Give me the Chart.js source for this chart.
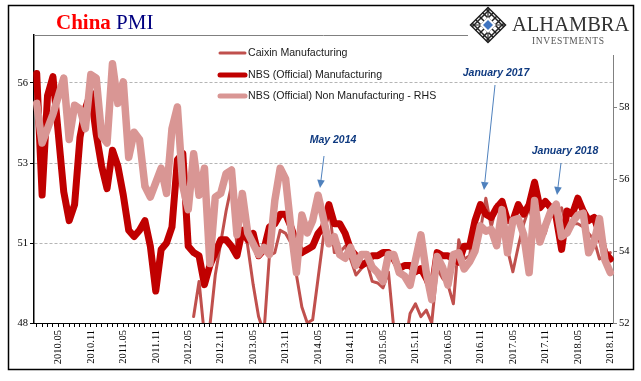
<!DOCTYPE html>
<html>
<head>
<meta charset="utf-8">
<title>China PMI</title>
<script src="https://cdn.jsdelivr.net/npm/chart.js@4"></script>
<style>
  html, body { margin: 0; padding: 0; background: #fff; }
  canvas { display: block; }
</style>
</head>
<body>
<canvas id="pmiChart" width="641" height="381"></canvas>
<script>
// Monthly categories, 2010.01 to 2018.11
const months = [
    '2010.01','2010.02','2010.03','2010.04','2010.05','2010.06','2010.07','2010.08','2010.09','2010.10','2010.11','2010.12',
    '2011.01','2011.02','2011.03','2011.04','2011.05','2011.06','2011.07','2011.08','2011.09','2011.10','2011.11','2011.12',
    '2012.01','2012.02','2012.03','2012.04','2012.05','2012.06','2012.07','2012.08','2012.09','2012.10','2012.11','2012.12',
    '2013.01','2013.02','2013.03','2013.04','2013.05','2013.06','2013.07','2013.08','2013.09','2013.10','2013.11','2013.12',
    '2014.01','2014.02','2014.03','2014.04','2014.05','2014.06','2014.07','2014.08','2014.09','2014.10','2014.11','2014.12',
    '2015.01','2015.02','2015.03','2015.04','2015.05','2015.06','2015.07','2015.08','2015.09','2015.10','2015.11','2015.12',
    '2016.01','2016.02','2016.03','2016.04','2016.05','2016.06','2016.07','2016.08','2016.09','2016.10','2016.11','2016.12',
    '2017.01','2017.02','2017.03','2017.04','2017.05','2017.06','2017.07','2017.08','2017.09','2017.10','2017.11','2017.12',
    '2018.01','2018.02','2018.03','2018.04','2018.05','2018.06','2018.07','2018.08','2018.09','2018.10','2018.11'
];

const caixin = [
    null,null,null,null,null,null,null,null,null,null,null,null,
    null,null,null,null,null,null,null,null,null,null,null,null,
    null,null,null,null,null,48.2,49.3,47.6,47.9,49.5,50.5,51.5,
    52.3,50.4,51.6,50.4,49.2,48.2,47.7,50.1,50.2,50.9,50.8,50.5,
    49.5,48.5,48.0,48.1,49.4,50.7,51.7,50.2,50.2,50.4,50.0,49.5,
    49.7,49.9,49.3,49.25,49.1,49.6,47.8,47.3,47.2,48.3,48.6,48.2,
    48.4,48.0,49.7,49.4,49.2,48.6,50.6,50.0,50.1,51.2,50.9,51.9,
    51.0,51.7,51.2,50.3,49.6,50.4,51.1,51.6,51.0,51.0,50.8,51.5,
    51.5,51.6,51.0,51.1,51.1,51.0,50.8,50.6,50.0,50.1,50.2
];

const nbsManufacturing = [
    55.8,52.0,55.1,55.7,53.9,52.1,51.2,51.7,53.8,54.7,55.2,53.9,
    52.9,52.2,53.4,52.9,52.0,50.9,50.7,50.9,51.2,50.4,49.0,50.3,
    50.5,51.0,53.1,53.3,50.4,50.2,50.1,49.2,49.8,50.2,50.6,50.6,
    50.4,50.1,50.9,50.6,50.8,50.1,50.3,51.0,51.1,51.4,51.4,51.0,
    50.5,50.2,50.3,50.4,50.8,51.0,51.7,51.1,51.1,50.8,50.3,50.1,
    49.8,49.9,50.1,50.1,50.2,50.2,50.0,49.7,49.8,49.8,49.6,49.7,
    49.4,49.0,50.2,50.1,50.1,50.0,49.9,50.4,50.4,51.2,51.7,51.4,
    51.3,51.6,51.8,51.2,51.2,51.7,51.4,51.7,52.4,51.6,51.8,51.6,
    51.3,50.3,51.5,51.4,51.9,51.5,51.2,51.3,50.8,50.2,50.0
];

const nbsNonManufacturing = [
    58.1,57.0,57.4,57.8,58.3,58.8,57.1,58.05,57.95,57.4,58.9,58.8,
    57.2,57.0,59.2,58.1,58.7,56.6,57.3,57.1,55.8,55.5,55.9,56.3,
    55.6,57.4,58.0,55.8,55.15,56.7,55.55,56.3,53.65,55.5,55.6,56.15,
    56.25,54.45,55.6,54.5,54.2,53.9,54.1,53.9,55.4,56.3,56.0,54.6,
    53.4,55.0,54.5,54.85,55.55,54.9,54.2,54.4,53.9,53.8,54.1,53.6,
    53.9,53.9,53.55,53.4,53.15,53.9,53.9,53.4,53.3,53.05,53.75,54.45,
    53.4,52.65,53.85,53.55,53.05,53.9,53.95,53.5,53.7,54.0,54.7,54.55,
    54.6,54.15,55.15,53.95,54.85,54.9,54.45,53.4,55.4,54.25,54.7,55.1,
    55.3,54.4,54.5,54.8,55.0,55.05,53.95,54.25,54.9,53.75,53.4
];

// Left axis marks sit on 50.5, 53, 55.5 and show rounded
const leftTicks = [48, 50.5, 53, 55.5];
const rightTicks = [52, 54, 56, 58];

const seriesNames = ['Caixin Manufacturing', 'NBS (Official) Manufacturing', 'NBS (Official) Non Manufacturing - RHS'];
const seriesColors = ['#c0504d', '#c00000', '#d99694'];
const seriesWidths = [3, 7, 7.5];

const callouts = [
    { text: 'May 2014', textX: 333, textY: 140, fromX: 324, fromY: 156, toX: 320, toY: 188 },
    { text: 'January 2017', textX: 496, textY: 73, fromX: 495, fromY: 85, toX: 484, toY: 190 },
    { text: 'January 2018', textX: 565, textY: 151, fromX: 561, fromY: 163, toX: 557, toY: 195 }
];

const tickFont = { family: '"Liberation Serif", serif', size: 10.5 };

// Frame, title, legend, logo and callouts, none of them are chart marks
const decorations = {
    id: 'decorations',
    afterDraw(chart) {
        const ctx = chart.ctx;
        const area = chart.chartArea;
        ctx.save();

        // gray line along the top of the plot
        ctx.strokeStyle = '#808080';
        ctx.lineWidth = 1;
        ctx.beginPath();
        ctx.moveTo(area.left, area.top + 0.5);
        ctx.lineTo(area.right, area.top + 0.5);
        ctx.stroke();

        // logo sits on a white patch that hides the corner of the plot
        ctx.fillStyle = '#fff';
        ctx.fillRect(468, 6, 164, 49);
        drawLogo(ctx, 488, 25);

        // outer frame
        ctx.strokeStyle = '#000';
        ctx.lineWidth = 1.5;
        ctx.strokeRect(8.5, 5.5, 625, 364);

        // title
        ctx.textAlign = 'left';
        ctx.textBaseline = 'alphabetic';
        ctx.font = 'bold 21px "Liberation Serif"';
        ctx.fillStyle = '#ff0000';
        ctx.fillText('China', 56, 29);
        const w = ctx.measureText('China ').width;
        ctx.font = '21px "Liberation Serif"';
        ctx.fillStyle = '#000080';
        ctx.fillText('PMI', 56 + w, 29);

        // legend
        const legendY = [53, 75, 96];
        const legendW = [3, 5, 5];
        ctx.font = '10.6px "Liberation Sans"';
        ctx.textBaseline = 'middle';
        seriesNames.forEach((name, i) => {
            ctx.strokeStyle = seriesColors[i];
            ctx.lineWidth = legendW[i];
            ctx.lineCap = 'round';
            ctx.beginPath();
            ctx.moveTo(220, legendY[i]);
            ctx.lineTo(245, legendY[i]);
            ctx.stroke();
            ctx.fillStyle = '#1a1a1a';
            ctx.fillText(name, 248, legendY[i]);
        });

        // callouts with arrows
        callouts.forEach(c => {
            ctx.font = 'italic bold 10.5px "Liberation Sans"';
            ctx.fillStyle = '#0f3a80';
            ctx.textAlign = 'center';
            ctx.fillText(c.text, c.textX, c.textY);
            drawArrow(ctx, c.fromX, c.fromY, c.toX, c.toY);
        });

        ctx.restore();
    }
};

function drawArrow(ctx, x1, y1, x2, y2) {
    const a = Math.atan2(y2 - y1, x2 - x1);
    const len = 8;
    const half = 3.8;
    const bx = x2 - len * Math.cos(a);
    const by = y2 - len * Math.sin(a);
    ctx.strokeStyle = '#4f81bd';
    ctx.fillStyle = '#4f81bd';
    ctx.lineWidth = 1;
    ctx.lineCap = 'butt';
    ctx.beginPath();
    ctx.moveTo(x1, y1);
    ctx.lineTo(bx, by);
    ctx.stroke();
    ctx.beginPath();
    ctx.moveTo(x2, y2);
    ctx.lineTo(bx - half * Math.sin(a), by + half * Math.cos(a));
    ctx.lineTo(bx + half * Math.sin(a), by - half * Math.cos(a));
    ctx.closePath();
    ctx.fill();
}

function drawLogo(ctx, cx, cy) {
    const diamond = (r) => {
        ctx.beginPath();
        ctx.moveTo(cx, cy - r);
        ctx.lineTo(cx + r, cy);
        ctx.lineTo(cx, cy + r);
        ctx.lineTo(cx - r, cy);
        ctx.closePath();
    };
    ctx.save();
    diamond(18);
    ctx.clip();
    ctx.strokeStyle = '#222';
    ctx.lineWidth = 1.5;
    // lattice, clipped to the diamond
    ctx.beginPath();
    [-14, -7, 0, 7, 14].forEach(o => {
        ctx.moveTo(cx - 20 + o, cy - 20);
        ctx.lineTo(cx + 20 + o, cy + 20);
        ctx.moveTo(cx + 20 + o, cy - 20);
        ctx.lineTo(cx - 20 + o, cy + 20);
    });
    ctx.stroke();
    ctx.lineWidth = 1.2;
    ctx.beginPath();
    ctx.moveTo(cx, cy - 18);
    ctx.lineTo(cx, cy + 18);
    ctx.moveTo(cx - 18, cy);
    ctx.lineTo(cx + 18, cy);
    ctx.stroke();
    ctx.restore();

    ctx.strokeStyle = '#222';
    ctx.lineWidth = 1.5;
    diamond(17.5);
    ctx.stroke();
    ctx.fillStyle = '#fff';
    diamond(8);
    ctx.fill();
    ctx.fillStyle = '#3f74c0';
    diamond(5);
    ctx.fill();

    ctx.textAlign = 'left';
    ctx.textBaseline = 'alphabetic';
    ctx.fillStyle = '#333';
    ctx.font = '20.5px "Liberation Serif"';
    ctx.fillText('ALHAMBRA', 512, 31);
    ctx.fillStyle = '#555';
    ctx.font = '9.5px "Liberation Serif"';
    ctx.letterSpacing = '0.6px';
    ctx.fillText('INVESTMENTS', 532, 44);
    ctx.letterSpacing = '0px';
}

function lineDataset(index, values, axis, order) {
    return {
        label: seriesNames[index],
        data: values,
        yAxisID: axis,
        borderColor: seriesColors[index],
        backgroundColor: seriesColors[index],
        borderWidth: seriesWidths[index],
        pointRadius: 0,
        tension: 0,
        borderJoinStyle: 'round',
        borderCapStyle: 'round',
        order: order
    };
}

new Chart(document.getElementById('pmiChart').getContext('2d'), {
    type: 'line',
    data: {
        labels: months,
        datasets: [
            lineDataset(0, caixin, 'y', 3),
            lineDataset(1, nbsManufacturing, 'y', 2),
            lineDataset(2, nbsNonManufacturing, 'y1', 1)
        ]
    },
    plugins: [decorations],
    options: {
        responsive: false,
        animation: false,
        layout: { padding: { top: 35, left: 0, right: 0, bottom: 0 } },
        plugins: { legend: { display: false }, tooltip: { enabled: false } },
        scales: {
            x: {
                offset: true,
                afterFit(scale) { scale.height = 58; },
                border: { color: '#000', width: 1 },
                grid: { drawOnChartArea: false, color: '#000', tickLength: 4, tickColor: '#000' },
                ticks: {
                    autoSkip: false,
                    minRotation: 90,
                    maxRotation: 90,
                    color: '#000',
                    padding: 3,
                    font: tickFont,
                    callback(value, index) {
                        return (index - 4) % 6 === 0 ? months[index] : '';
                    }
                }
            },
            y: {
                position: 'left',
                min: 48,
                max: 57,
                afterFit(scale) { scale.width = 34; },
                afterBuildTicks(scale) { scale.ticks = leftTicks.map(value => ({ value })); },
                border: { color: '#000', width: 1.5, dash: [3, 2] },
                grid: { color: '#b5b5b5', tickColor: '#000', tickLength: 4, lineWidth: 1 },
                ticks: {
                    color: '#000',
                    padding: 2,
                    font: tickFont,
                    callback(value) { return Math.round(value); }
                }
            },
            y1: {
                position: 'right',
                min: 52,
                max: 60,
                afterFit(scale) { scale.width = 28; },
                afterBuildTicks(scale) { scale.ticks = rightTicks.map(value => ({ value })); },
                border: { color: '#808080', width: 1 },
                grid: { drawOnChartArea: false, tickColor: '#808080', tickLength: 4 },
                ticks: {
                    color: '#000',
                    padding: 2,
                    font: tickFont
                }
            }
        }
    }
});
</script>
</body>
</html>
